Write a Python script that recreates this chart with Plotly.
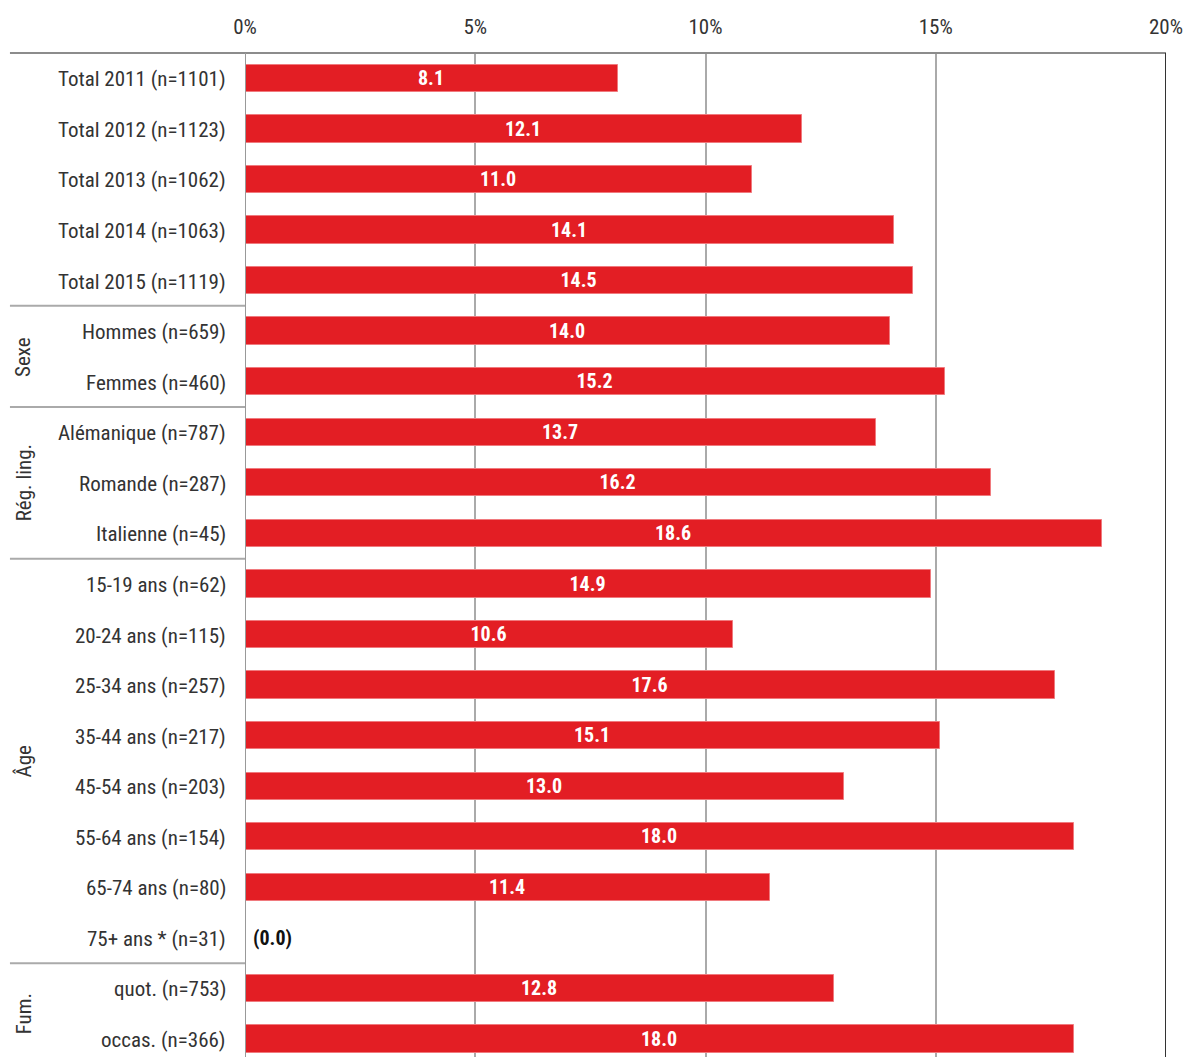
import plotly.graph_objects as go

# Categories (top to bottom) and the share for each, in percent
categories = [
    "Total 2011 (n=1101)", "Total 2012 (n=1123)", "Total 2013 (n=1062)",
    "Total 2014 (n=1063)", "Total 2015 (n=1119)",
    "Hommes (n=659)", "Femmes (n=460)",
    "Alémanique (n=787)", "Romande (n=287)", "Italienne (n=45)",
    "15-19 ans (n=62)", "20-24 ans (n=115)", "25-34 ans (n=257)",
    "35-44 ans (n=217)", "45-54 ans (n=203)", "55-64 ans (n=154)",
    "65-74 ans (n=80)", "75+ ans * (n=31)",
    "quot. (n=753)", "occas. (n=366)",
]
values = [8.1, 12.1, 11.0, 14.1, 14.5,
          14.0, 15.2,
          13.7, 16.2, 18.6,
          14.9, 10.6, 17.6, 15.1, 13.0, 18.0, 11.4, 0.0,
          12.8, 18.0]
# Sample too small: value shown in parentheses
small_sample = [False] * 17 + [True] + [False, False]

# Groups: (label, first row, last row)
groups = [("Sexe", 5, 6), ("Rég. ling.", 7, 9), ("Âge", 10, 17), ("Fum.", 18, 19)]
x_ticks = [0, 5, 10, 15, 20]
x_ticklabels = ["0%", "5%", "10%", "15%", "20%"]

FONT = "Liberation Sans Narrow, Arial Narrow, Roboto Condensed, Liberation Sans, sans-serif"
RED = "#E31E24"
TXT = "#333333"

rows = list(range(len(categories)))
bar_text = ["" if s or v == 0 else f"{v:.1f}" for v, s in zip(values, small_sample)]

fig = go.Figure()
fig.add_trace(go.Bar(
    x=values, y=rows, orientation="h",
    width=0.54,
    marker=dict(color=RED, line=dict(color="#F07A7E", width=1)),
    text=bar_text, textposition="inside", insidetextanchor="middle",
    constraintext="none",
    textfont=dict(family=FONT, size=20, color="white", weight="bold"),
    textangle=0, cliponaxis=False, hoverinfo="skip",
))

annotations = []
# Category labels to the left of the plot
for i, c in enumerate(categories):
    annotations.append(dict(
        x=0, xref="paper", y=i, yref="y", text=c, showarrow=False,
        xanchor="right", yanchor="middle", xshift=-17, yshift=-1,
        font=dict(family=FONT, size=21, color=TXT)))
# Values for small samples, in parentheses
for i, (v, s) in enumerate(zip(values, small_sample)):
    if s:
        annotations.append(dict(
            x=v, xref="x", y=i, yref="y", text=f"<b>({v:.1f})</b>", showarrow=False,
            xanchor="left", yanchor="middle", xshift=6,
            font=dict(family=FONT, size=20, color="#111111")))
# Group labels, rotated
for name, a, b in groups:
    annotations.append(dict(
        x=-0.2405, xref="paper", y=(a + b) / 2, yref="y", text=name, showarrow=False,
        textangle=-90, xanchor="center", yanchor="middle",
        font=dict(family=FONT, size=21, color=TXT)))

shapes = []
# Top rule spanning labels and plot
shapes.append(dict(type="line", xref="paper", yref="paper", x0=-0.2552, x1=1, y0=1, y1=1,
                   line=dict(color="#8C8C8C", width=2), layer="above"))
# Group separators in the label column
for name, a, b in groups:
    shapes.append(dict(type="line", xref="paper", yref="y", x0=-0.2552, x1=0,
                       y0=a - 0.5, y1=a - 0.5, line=dict(color="#AAAAAA", width=2)))
# Left and right frame lines
shapes.append(dict(type="line", xref="x", yref="paper", x0=0, x1=0, y0=0, y1=1,
                   line=dict(color="#999999", width=2), layer="above"))
shapes.append(dict(type="line", xref="x", yref="paper", x0=20, x1=20, y0=0, y1=1,
                   line=dict(color="#333333", width=2), layer="above"))

plot_top = 53
row_pitch = 50.53
first_center = 79
height = 1057
bottom_val = (height - first_center) / row_pitch

fig.update_layout(
    width=1188, height=height,
    margin=dict(l=245, r=22, t=plot_top, b=0),
    paper_bgcolor="white", plot_bgcolor="white",
    showlegend=False, bargap=0,
    xaxis=dict(side="top", range=[0, 20], tickvals=x_ticks, ticktext=x_ticklabels,
               showgrid=True, gridcolor="#AAAAAA", gridwidth=1.5, zeroline=False,
               showline=False, ticks="", ticklabelstandoff=14,
               tickfont=dict(family=FONT, size=21, color=TXT), fixedrange=True),
    yaxis=dict(range=[bottom_val, -0.5], showticklabels=False, showgrid=False,
               zeroline=False, showline=False, ticks="", fixedrange=True),
    annotations=annotations, shapes=shapes,
)

fig.write_html("out.html")
